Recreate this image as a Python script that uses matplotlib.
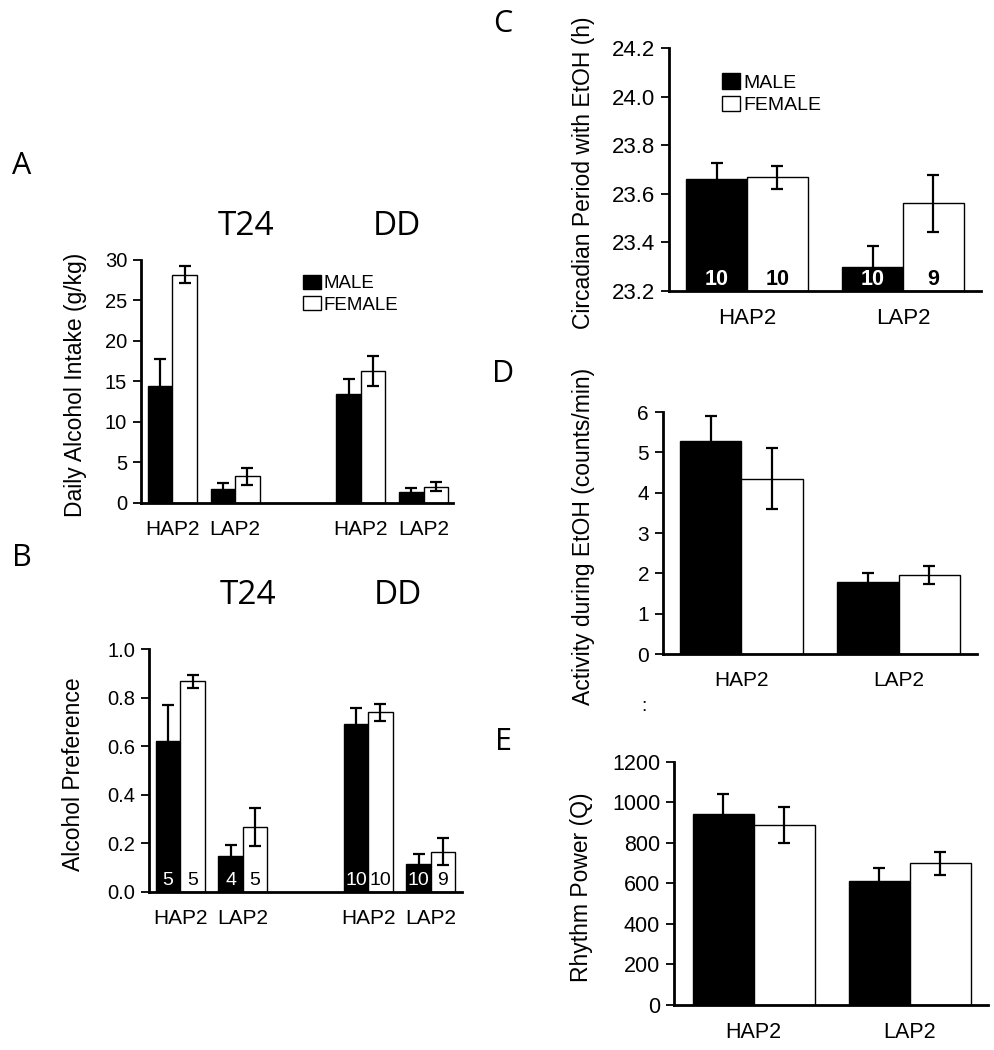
import matplotlib
matplotlib.use('Agg')
import matplotlib.pyplot as plt
import numpy as np
from matplotlib.patches import Patch

plt.rcParams['font.family'] = ['Liberation Sans', 'DejaVu Sans']

# panel A - daily alcohol intake (g/kg); order: T24 HAP2, T24 LAP2, DD HAP2, DD LAP2
a_male = [14.4, 1.75, 13.5, 1.3]
a_male_err = [3.4, 0.7, 1.8, 0.55]
a_female = [28.2, 3.3, 16.3, 2.0]
a_female_err = [1.1, 1.05, 1.85, 0.55]

# panel B - alcohol preference
b_male = [0.62, 0.148, 0.69, 0.117]
b_male_err = [0.148, 0.047, 0.067, 0.038]
b_female = [0.868, 0.267, 0.739, 0.166]
b_female_err = [0.027, 0.077, 0.036, 0.057]
b_n_male = ['5', '4', '10', '10']
b_n_female = ['5', '5', '10', '9']

lines = ['HAP2', 'LAP2']
ab_labels = ['HAP2', 'LAP2', 'HAP2', 'LAP2']

# panel C - circadian period with EtOH (h)
c_male = [23.659, 23.30]
c_male_err = [0.068, 0.086]
c_female = [23.668, 23.560]
c_female_err = [0.047, 0.116]
c_n_male = ['10', '10']
c_n_female = ['10', '9']

# panel D - activity during EtOH (counts/min)
d_male = [5.27, 1.78]
d_male_err = [0.62, 0.24]
d_female = [4.35, 1.96]
d_female_err = [0.75, 0.23]

# panel E - rhythm power (Q)
e_male = [945, 613]
e_male_err = [95, 61]
e_female = [888, 699]
e_female_err = [89, 56]

BW = 0.39
ekw = dict(ecolor='black', elinewidth=1.6, capsize=4.5, capthick=1.6)


def style_axes(ax, tick_size, xtick_size=15):
    for s in ['top', 'right']:
        ax.spines[s].set_visible(False)
    for s in ['left', 'bottom']:
        ax.spines[s].set_linewidth(2)
    ax.tick_params(axis='y', direction='out', length=6, width=1.3,
                   labelsize=tick_size, pad=4)
    ax.tick_params(axis='x', length=0, labelsize=xtick_size, pad=12)


def draw_pairs(ax, pos, male, male_err, female, female_err, base=0):
    pos = np.asarray(pos, dtype=float)
    m = np.asarray(male) - base
    f = np.asarray(female) - base
    # lower half of the male bars' error bars disappears inside the black bar
    ax.bar(pos - BW / 2, m, BW, bottom=base, color='black', edgecolor='black',
           linewidth=1, yerr=male_err, error_kw=ekw)
    ax.bar(pos + BW / 2, f, BW, bottom=base, color='white', edgecolor='black',
           linewidth=1, yerr=female_err, error_kw=ekw)


def ylab(ax, text, xr):
    ax.set_ylabel(text, fontsize=16.5)
    ax.yaxis.set_label_coords(xr, 0.485)


fig = plt.figure(figsize=(9.94, 10.5), dpi=100)

# ---- A
axA = fig.add_axes([0.1419, 0.5210, 0.3139, 0.2314])
posAB = [0, 1, 3, 4]
draw_pairs(axA, posAB, a_male, a_male_err, a_female, a_female_err)
axA.set_xlim(-0.5, 4.47)
axA.set_ylim(0, 30)
axA.set_yticks(range(0, 31, 5))
axA.set_xticks(posAB)
axA.set_xticklabels(ab_labels)
style_axes(axA, 14.5)
ylab(axA, 'Daily Alcohol Intake (g/kg)', -0.173)
axA.text(0.337, 1.136, 'T24', transform=axA.transAxes, ha='center', va='center',
         fontsize=24, family='Open Sans')
axA.text(0.82, 1.136, 'DD', transform=axA.transAxes, ha='center', va='center',
         fontsize=24, family='Open Sans')
handles = [Patch(facecolor='black', edgecolor='black'),
           Patch(facecolor='white', edgecolor='black')]
axA.legend(handles, ['MALE', 'FEMALE'], loc='upper left', bbox_to_anchor=(0.52, 0.94),
           frameon=False, fontsize=13.5, handlelength=0.95, handleheight=0.8,
           handletextpad=0.15, labelspacing=0.2, borderpad=0, borderaxespad=0)

# ---- B
axB = fig.add_axes([0.1499, 0.1505, 0.3149, 0.2314])
draw_pairs(axB, posAB, b_male, b_male_err, b_female, b_female_err)
axB.set_xlim(-0.5, 4.5)
axB.set_ylim(0, 1.0)
axB.set_yticks(np.arange(0, 1.01, 0.2))
axB.set_yticklabels(['%.1f' % v for v in np.arange(0, 1.01, 0.2)])
axB.set_xticks(posAB)
axB.set_xticklabels(ab_labels)
style_axes(axB, 14.5)
ylab(axB, 'Alcohol Preference', -0.204)
for p, nm, nf in zip(posAB, b_n_male, b_n_female):
    axB.text(p - BW / 2, 0.012, nm, color='white', ha='center', va='bottom', fontsize=14)
    axB.text(p + BW / 2, 0.012, nf, color='black', ha='center', va='bottom', fontsize=14)
axB.text(0.315, 1.222, 'T24', transform=axB.transAxes, ha='center', va='center',
         fontsize=24, family='Open Sans')
axB.text(0.794, 1.222, 'DD', transform=axB.transAxes, ha='center', va='center',
         fontsize=24, family='Open Sans')

# ---- C
axC = fig.add_axes([0.6730, 0.7229, 0.3139, 0.2314])
posCDE = [0, 1]
draw_pairs(axC, posCDE, c_male, c_male_err, c_female, c_female_err, base=23.2)
axC.set_xlim(-0.5, 1.5)
axC.set_ylim(23.2, 24.2)
axC.set_yticks(np.arange(23.2, 24.21, 0.2))
axC.set_yticklabels(['%.1f' % v for v in np.arange(23.2, 24.21, 0.2)])
axC.set_xticks(posCDE)
axC.set_xticklabels(lines)
style_axes(axC, 16, 16)
ylab(axC, 'Circadian Period with EtOH (h)', -0.237)
for p, nm, nf in zip(posCDE, c_n_male, c_n_female):
    axC.text(p - BW / 2, 23.205, nm, color='white', ha='center', va='bottom',
             fontsize=15.5, fontweight='bold')
    axC.text(p + BW / 2, 23.205, nf, color='black', ha='center', va='bottom',
             fontsize=15.5, fontweight='bold')
axC.legend(handles, ['MALE', 'FEMALE'], loc='upper left', bbox_to_anchor=(0.17, 0.895),
           frameon=False, fontsize=14, handlelength=0.95, handleheight=0.85,
           handletextpad=0.15, labelspacing=0.2, borderpad=0, borderaxespad=0)

# ---- D
axD = fig.add_axes([0.6670, 0.3771, 0.3159, 0.2305])
draw_pairs(axD, posCDE, d_male, d_male_err, d_female, d_female_err)
axD.set_xlim(-0.5, 1.5)
axD.set_ylim(0, 6)
axD.set_yticks(range(0, 7))
axD.set_xticks(posCDE)
axD.set_xticklabels(lines)
style_axes(axD, 15)
ylab(axD, 'Activity during EtOH (counts/min)', -0.217)
fig.text(0.648, 0.327, ':', fontsize=14, ha='center', va='center')

# ---- E
axE = fig.add_axes([0.6781, 0.0429, 0.3159, 0.2314])
draw_pairs(axE, posCDE, e_male, e_male_err, e_female, e_female_err)
axE.set_xlim(-0.51, 1.5)
axE.set_ylim(0, 1200)
axE.set_yticks(range(0, 1201, 200))
axE.set_xticks(posCDE)
axE.set_xticklabels(lines)
style_axes(axE, 15.5, 15.5)
ylab(axE, 'Rhythm Power (Q)', -0.258)

# panel letters
for lab, x, y in [('A', 22, 166), ('B', 22, 558), ('C', 503, 24), ('D', 503, 374), ('E', 503, 742)]:
    fig.text(x / 994, 1 - y / 1050, lab, fontsize=22, family='Open Sans',
             ha='center', va='center')

fig.savefig('out.png', dpi=100)
